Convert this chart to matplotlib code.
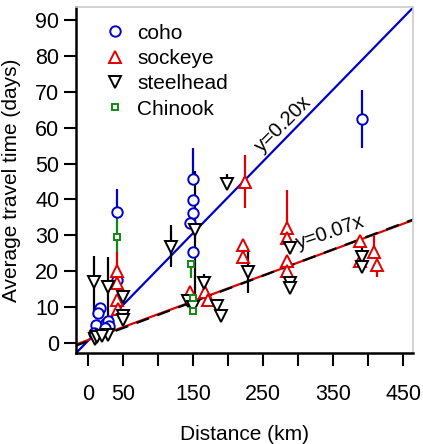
import matplotlib
matplotlib.use('Agg')
import matplotlib.pyplot as plt
import numpy as np

plt.rcParams['font.family'] = ['Liberation Sans', 'DejaVu Sans']

# coho (blue circles)
coho_x = [391, 150, 150, 150, 146, 150, 42, 42, 17, 14, 12, 9, 26, 28, 30, 24]
coho_y = [62.5, 45.8, 39.8, 36.3, 33.5, 25.4, 36.4, 17.6, 9.7, 8.3, 5.0, 2.8, 5.5, 6.0, 4.8, 4.2]
coho_lo = [8.3, 0, 0, 0, 0, 0, 0, 0, 0, 0, 0, 0, 0, 0, 0, 0]
coho_hi = [8.0, 8.4, 0, 0, 0, 0, 6.6, 0, 0, 0, 0, 0, 0, 0, 0, 0]

# sockeye (red up triangles)
sock_x = [224, 222, 222, 284, 284, 284, 284, 389, 389, 409, 413, 42, 42, 42, 43, 146, 167, 172]
sock_y = [44.9, 27.3, 24.0, 31.9, 29.2, 22.7, 20.0, 28.5, 22.7, 25.4, 21.7, 20.0, 16.8, 12.0, 9.5, 14.3, 14.3, 12.0]
sock_lo = [7.4, 0, 0, 0, 0, 0, 0, 0, 0, 0, 3.2, 0, 0, 0, 0, 0, 0, 0]
sock_hi = [7.4, 0, 0, 10.7, 0, 0, 0, 0, 0, 4.6, 0, 5.4, 0, 0, 0, 0, 0, 0]

# steelhead (black down triangles)
steel_x = [198, 229, 288, 288, 288, 391, 391, 119, 153, 165, 184, 189.5, 143, 150,
           49.5, 49.5, 49.5, 9, 28, 10, 29, 13, 20]
steel_y = [44.4, 19.9, 26.4, 16.7, 15.3, 24.0, 21.3, 26.8, 31.5, 16.7, 10.2, 7.4, 11.6, 10.0,
           12.9, 7.4, 6.5, 17.1, 15.7, 1.1, 2.3, 1.6, 2.0]
steel_lo = [0, 6.0, 0, 0, 0, 0, 0, 5.5, 19.5, 0, 0, 0, 0, 0,
            0, 0, 0, 10.0, 9.0, 0, 0, 0, 0]
steel_hi = [2.6, 6.0, 0, 0, 0, 3.0, 0, 6.1, 16.5, 2.5, 0, 0, 0, 0,
            0, 0, 0, 7.0, 8.3, 0, 0, 0, 0]

# Chinook (green squares)
chin_x = [42, 147, 150, 150]
chin_y = [29.6, 22.0, 12.5, 9.0]
chin_lo = [4.2, 4.0, 0, 0]
chin_hi = [6.4, 0, 0, 0]

# fitted lines: slope, intercept
coho_fit = (0.20, 0.6)
sock_fit = (0.072, 0.8)
steel_fit = (0.073, 0.5)

xticks = [0, 50, 100, 150, 200, 250, 300, 350, 400, 450]
xticklabels = ['0', '50', '', '150', '', '250', '', '350', '', '450']
yticks = [0, 10, 20, 30, 40, 50, 60, 70, 80, 90]

fig = plt.figure(figsize=(4.23, 4.44), dpi=100)
ax = fig.add_axes([0.18, 0.205, 0.796, 0.779])

xlim = (-17, 464)
ylim = (-2.8, 93.6)

xx = np.array([-20, 480])
ax.plot(xx, coho_fit[0] * xx + coho_fit[1], color='#0000cc', lw=1.6, zorder=2)
ax.plot(xx, sock_fit[0] * xx + sock_fit[1], color='#e00000', lw=1.6, zorder=2)
ax.plot(xx, steel_fit[0] * xx + steel_fit[1], color='black', lw=1.6,
        dashes=(6, 4), zorder=2)

series = [
    (coho_x, coho_y, coho_lo, coho_hi, 'o', '#0000cc', 7.5, 'coho'),
    (sock_x, sock_y, sock_lo, sock_hi, '^', '#e00000', 8, 'sockeye'),
    (steel_x, steel_y, steel_lo, steel_hi, 'v', 'black', 8, 'steelhead'),
    (chin_x, chin_y, chin_lo, chin_hi, 's', '#118811', 5, 'Chinook'),
]

handles = []
for x, y, lo, hi, m, c, ms, lab in series:
    ax.errorbar(x, y, yerr=[lo, hi], fmt='none', ecolor=c, elinewidth=1.6,
                capsize=0, zorder=3)
    h, = ax.plot(x, y, linestyle='none', marker=m, markersize=ms,
                 markerfacecolor='white', markeredgecolor=c,
                 markeredgewidth=1.4, label=lab, zorder=4)
    handles.append(h)

ax.text(279, 61, 'y=0.20x', rotation=45, fontsize=14.5, ha='center', va='center',
        rotation_mode='anchor')
ax.text(346, 30.8, 'y=0.07x', rotation=19, fontsize=14.5, ha='center', va='center',
        rotation_mode='anchor')

ax.set_xlim(xlim)
ax.set_ylim(ylim)
ax.set_xticks(xticks)
ax.set_xticklabels(xticklabels)
ax.set_yticks(yticks)

ax.tick_params(axis='both', direction='out', length=9, width=1.5, labelsize=15.5)
ax.tick_params(axis='x', pad=13)
ax.tick_params(axis='y', pad=3)

for s in ['left', 'bottom']:
    ax.spines[s].set_linewidth(1.8)
for s in ['top', 'right']:
    ax.spines[s].set_color('#cccccc')
    ax.spines[s].set_linewidth(1.2)

ax.set_xlabel('Distance (km)', fontsize=15, labelpad=15)
ax.set_ylabel('Average travel time (days)', fontsize=15)
ax.yaxis.set_label_coords(-0.165, 0.5)

ax.legend(handles=handles, loc='upper left', frameon=False, fontsize=15,
          handletextpad=0.3, labelspacing=0.3, borderaxespad=0.4,
          handlelength=1.6, bbox_to_anchor=(0.015, 1.0))

fig.savefig('out.png', dpi=100)
